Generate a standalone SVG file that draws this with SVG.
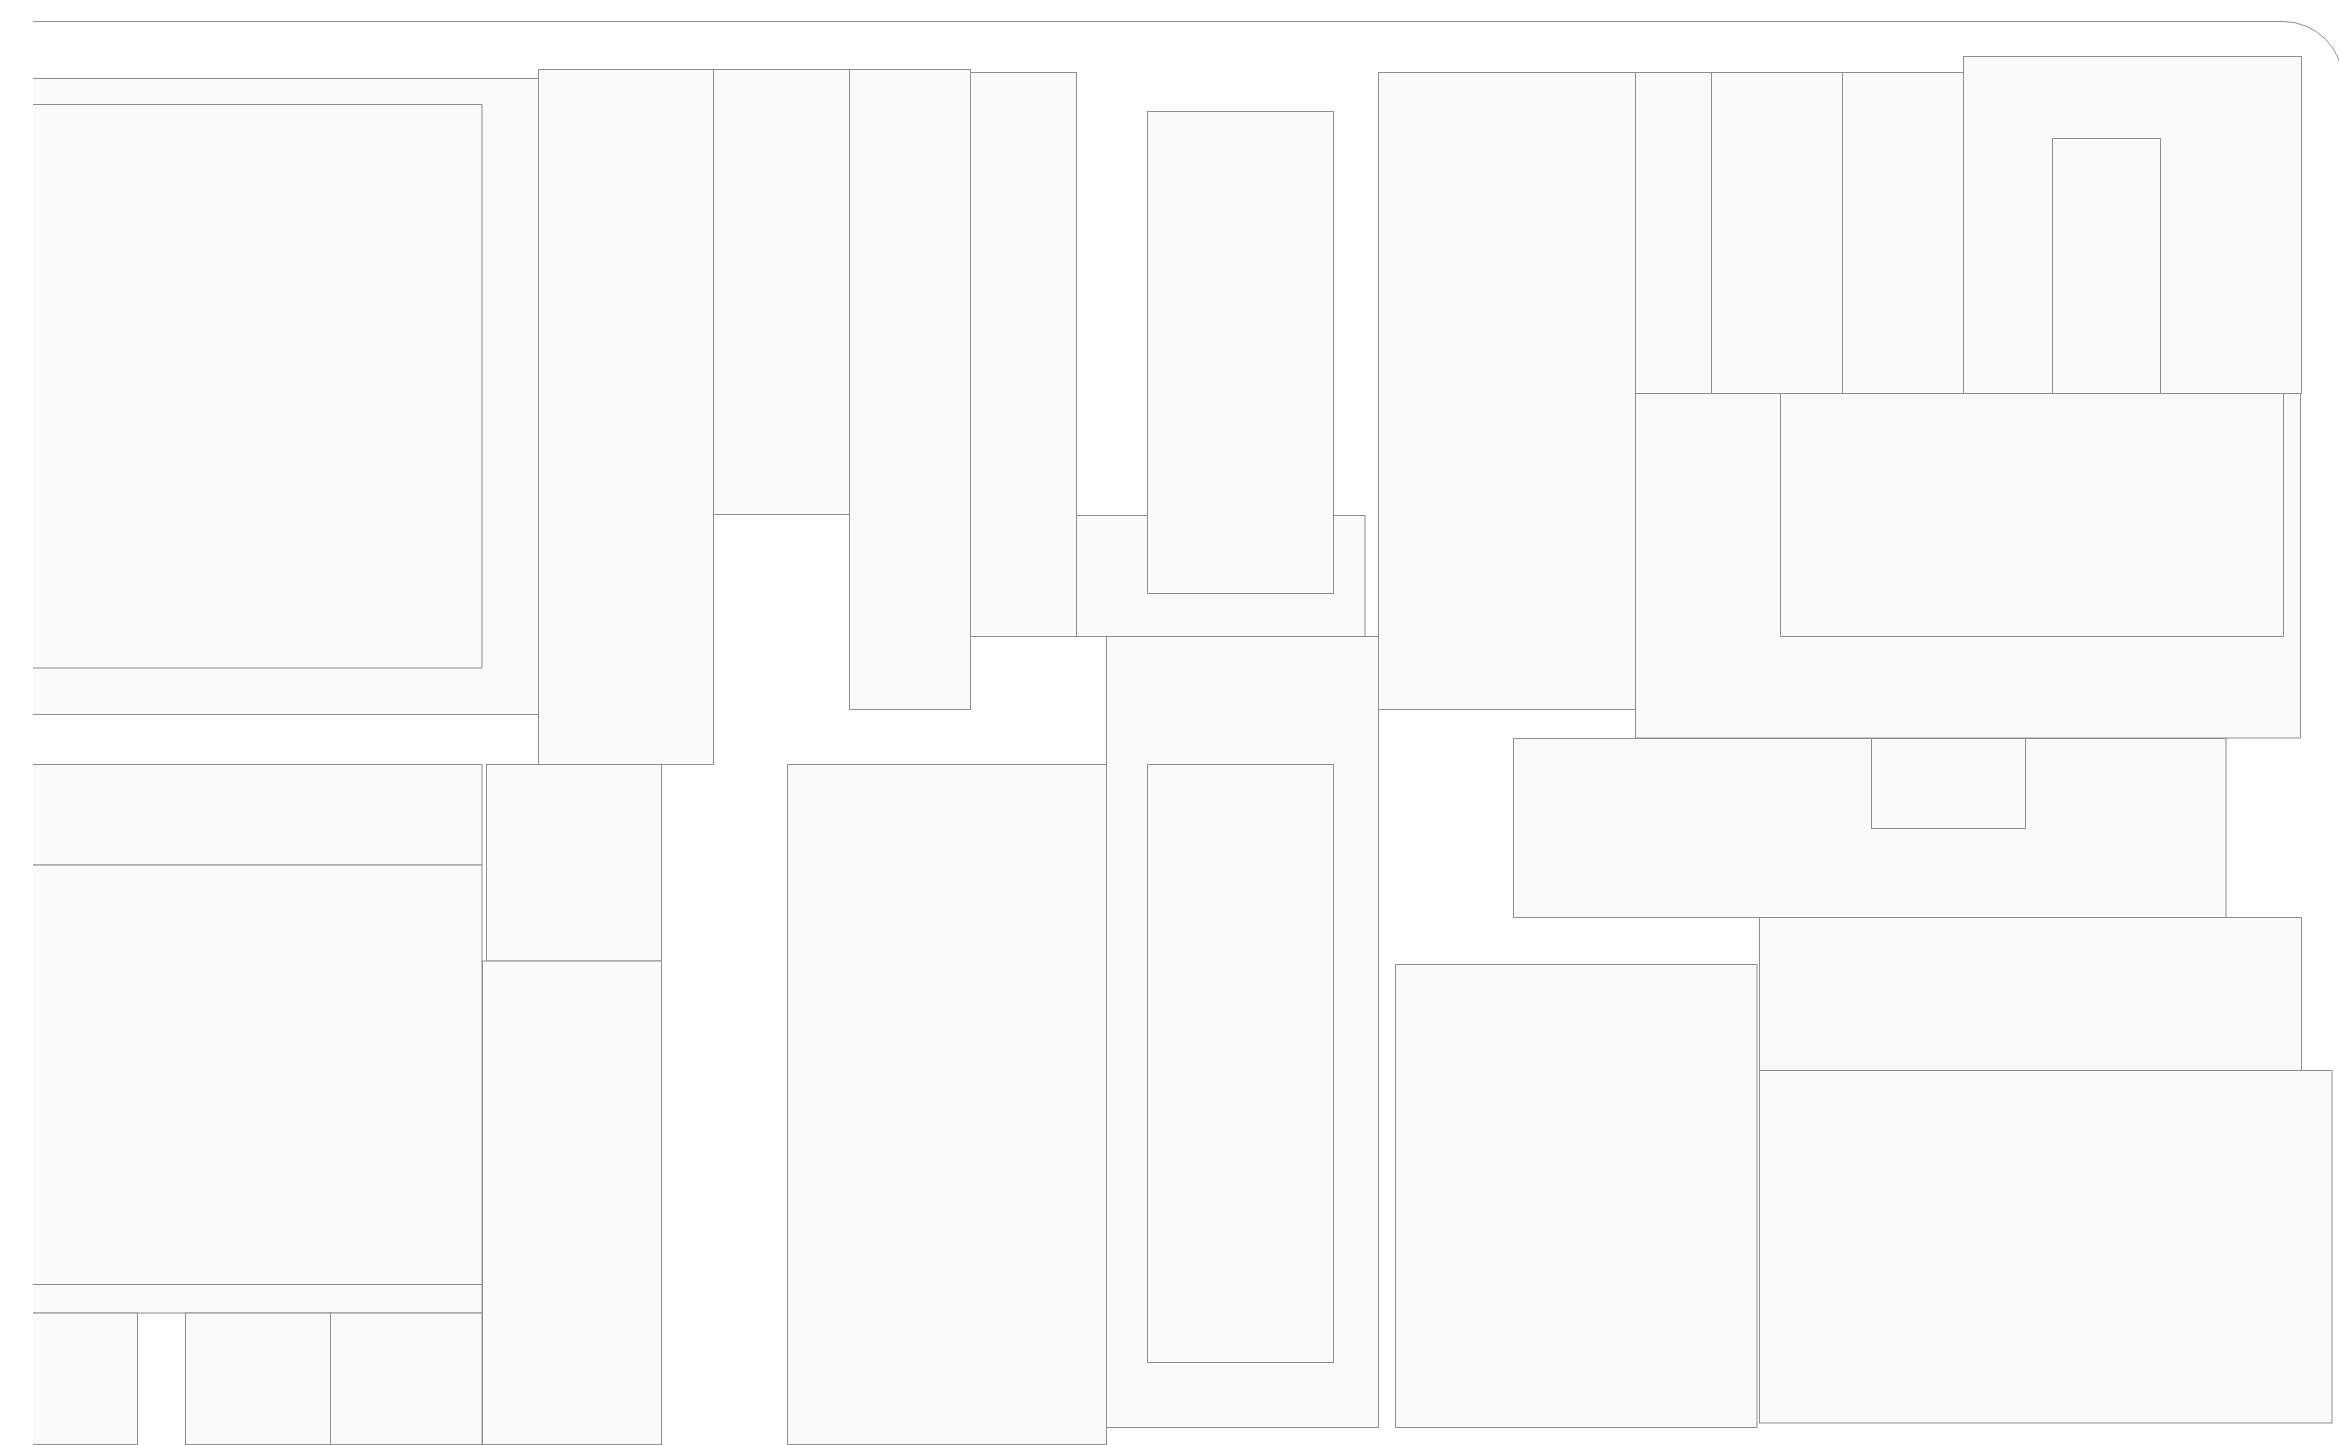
<svg xmlns="http://www.w3.org/2000/svg" width="2339" height="1445" viewBox="0 0 2339 1445">
<style>
.r{fill:#fafafa;stroke:#8e8e8e;stroke-width:1}
.f{fill:none;stroke:#8e8e8e;stroke-width:1}
</style>
<defs><clipPath id="c"><rect x="33" y="0" width="2320" height="1445"/></clipPath></defs>
<rect width="2339" height="1445" fill="#fff"/>
<g clip-path="url(#c)">
<path class="f" d="M20 21.5H2283A60 60 0 0 1 2343 81.5"/>
<g id="n1"><rect class="r" x="20" y="78.5" width="518.5" height="636"/></g>
<g id="n2"><rect class="r" x="20" y="104.5" width="462" height="563.5"/></g>
<g id="n3"><rect class="r" x="538.5" y="69.5" width="175" height="695"/></g>
<g id="n4"><rect class="r" x="713.5" y="69.5" width="136" height="445"/></g>
<g id="n5"><rect class="r" x="849.5" y="69.5" width="121" height="640"/></g>
<g id="n6"><rect class="r" x="970.5" y="72.5" width="106" height="564"/></g>
<g id="n7"><rect class="r" x="1076.5" y="515.5" width="288.5" height="121"/></g>
<g id="n8"><rect class="r" x="1147.5" y="111.5" width="186" height="482"/></g>
<g id="n9"><rect class="r" x="1378.5" y="72.5" width="257" height="637"/></g>
<g id="n10"><rect class="r" x="1635.5" y="72.5" width="76" height="321"/></g>
<g id="n11"><rect class="r" x="1711.5" y="72.5" width="131" height="321"/></g>
<g id="n12"><rect class="r" x="1842.5" y="72.5" width="121" height="321"/></g>
<g id="n13"><rect class="r" x="1963.5" y="56.5" width="338" height="337"/></g>
<g id="n14"><rect class="r" x="2052.5" y="138.5" width="108" height="255"/></g>
<g id="n15"><rect class="r" x="1635.5" y="393.5" width="665" height="344.5"/></g>
<g id="n16"><rect class="r" x="1780.5" y="393.5" width="503" height="243"/></g>
<g id="n17"><rect class="r" x="1513.5" y="738.5" width="712.5" height="179"/></g>
<g id="n18"><rect class="r" x="1871.5" y="738.5" width="154" height="90"/></g>
<g id="n19"><rect class="r" x="1759.5" y="917.5" width="542" height="153"/></g>
<g id="n20"><rect class="r" x="1759.5" y="1070.5" width="572.5" height="352.5"/></g>
<g id="n21"><rect class="r" x="1395.5" y="964.5" width="361.5" height="463"/></g>
<g id="n22"><rect class="r" x="1106.5" y="636.5" width="272" height="791"/></g>
<g id="n23"><rect class="r" x="1147.5" y="764.5" width="186" height="598"/></g>
<g id="n24"><rect class="r" x="787.5" y="764.5" width="319" height="680"/></g>
<g id="n25"><rect class="r" x="486.5" y="764.5" width="175" height="196.5"/></g>
<g id="n26"><rect class="r" x="482.5" y="961" width="179" height="483.5"/></g>
<g id="n27"><rect class="r" x="20" y="764.5" width="462" height="100.5"/></g>
<g id="n28"><rect class="r" x="20" y="865" width="462" height="419.5"/></g>
<g id="n29"><rect class="r" x="20" y="1284.5" width="462" height="28.5"/></g>
<g id="n30"><rect class="r" x="20" y="1313" width="117.5" height="131.5"/></g>
<g id="n31"><rect class="r" x="185.5" y="1313" width="145" height="131.5"/></g>
<g id="n32"><rect class="r" x="330.5" y="1313" width="151.5" height="131.5"/></g>
</g>
</svg>
